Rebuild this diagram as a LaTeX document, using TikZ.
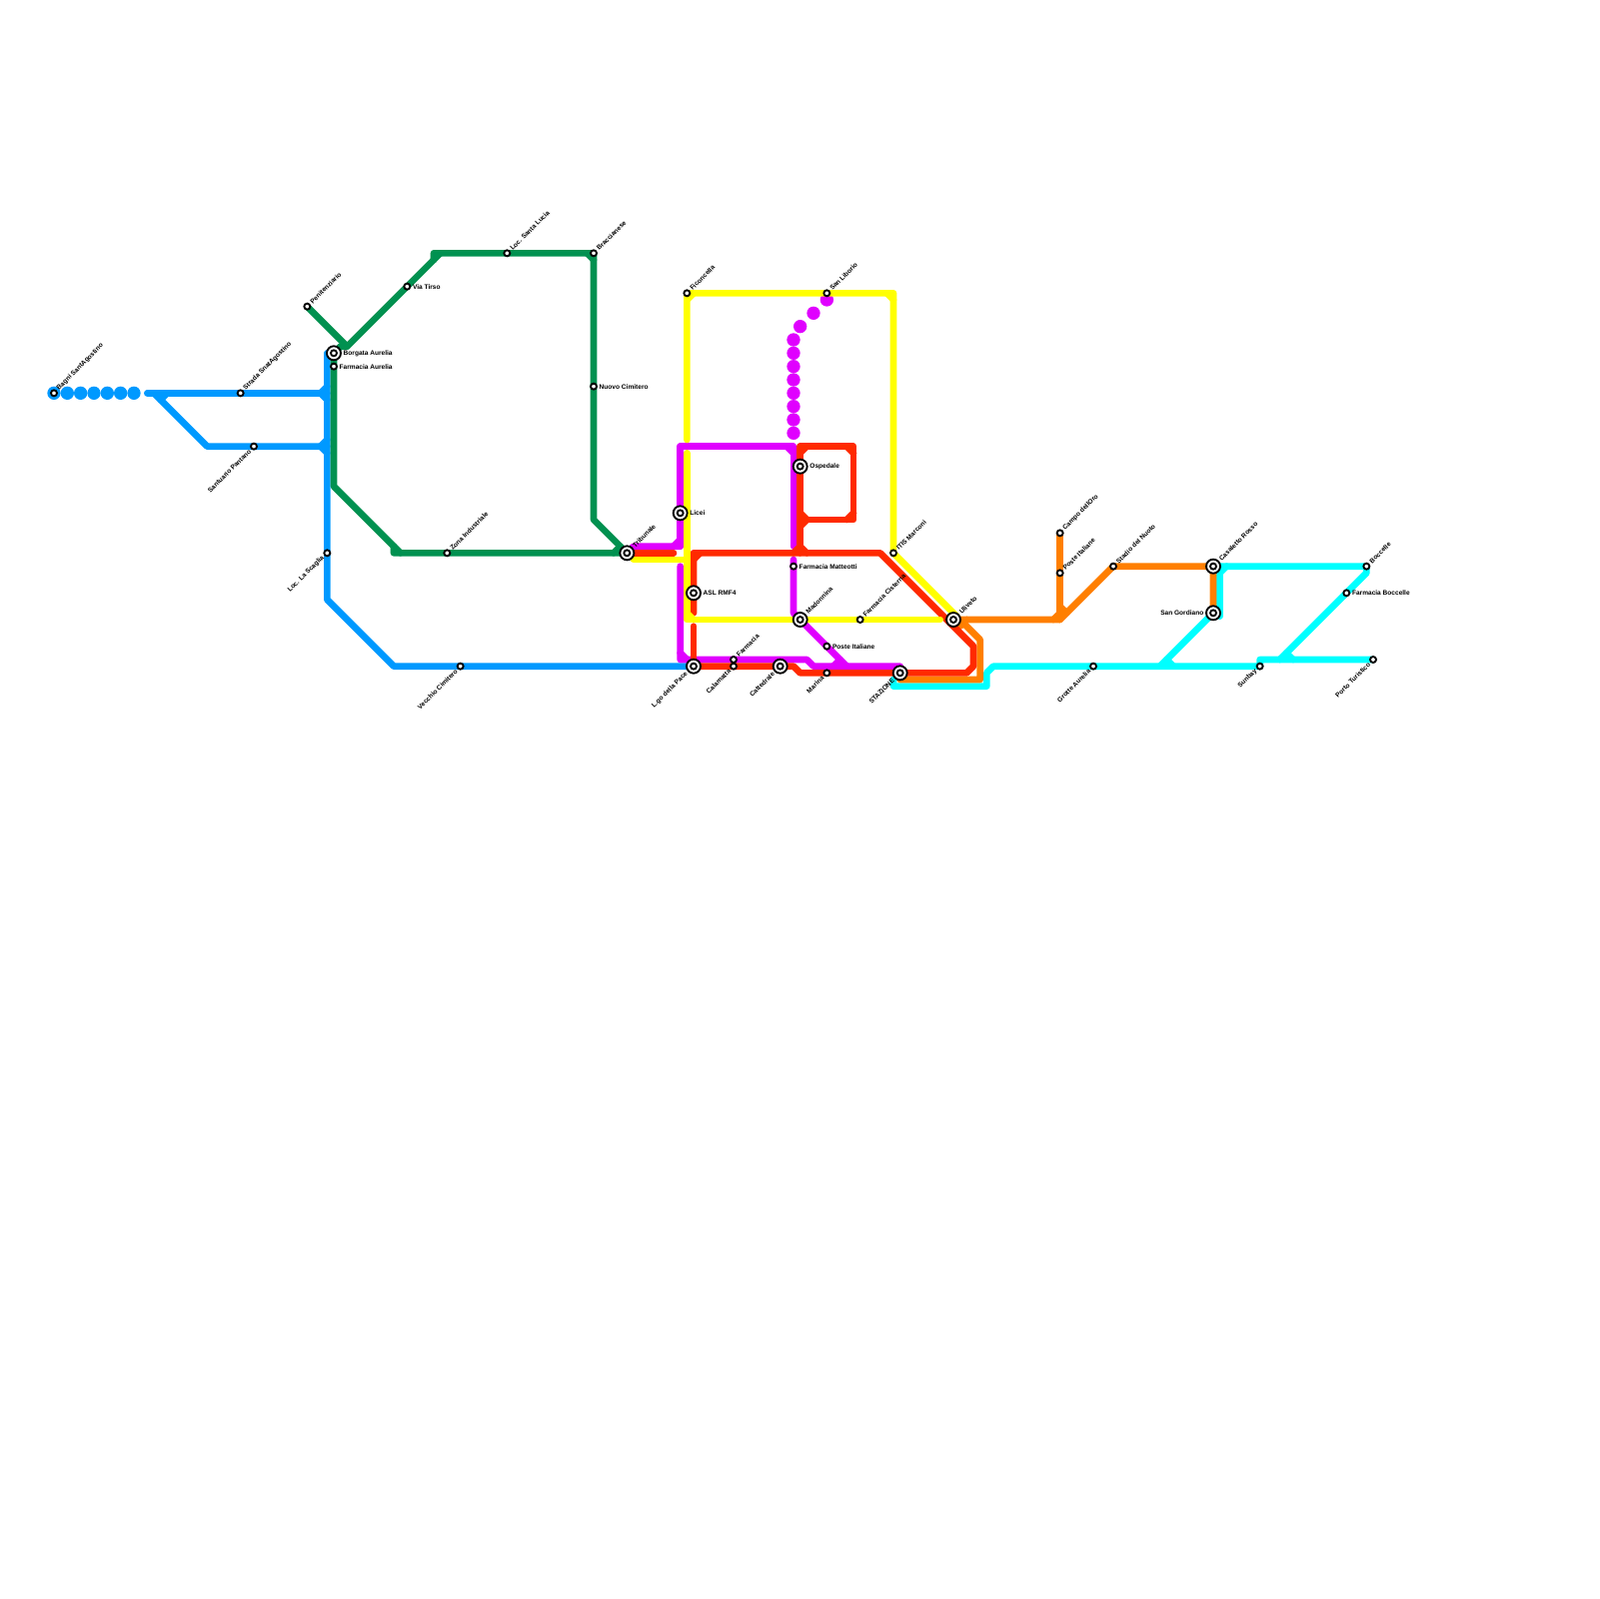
\documentclass[tikz,border=0pt]{standalone}
\usepackage{fontspec}
\setmainfont{Liberation Sans}
\usepackage{xcolor}
\usepackage{tikz}
\usetikzlibrary{backgrounds}
\definecolor{lineblue}{HTML}{0099FF}
\definecolor{linegreen}{HTML}{009150}
\definecolor{linemag}{HTML}{E000FF}
\definecolor{linered}{HTML}{FF2A00}
\definecolor{lineyel}{HTML}{FFFF00}
\definecolor{lineora}{HTML}{FF7F00}
\definecolor{linecya}{HTML}{00FFFF}
\tikzset{
  metro/.style={line width=1mm,line cap=round,line join=round},
  stn/.style={circle,draw=black,fill=white,line width=.28mm,minimum size=.9mm,inner sep=0pt},
  bigstn/.style={stn,minimum size=2.1mm,path picture={\draw[line width=.28mm] (path picture bounding box.center) circle (.45mm);}},
  every label/.style={font=\bfseries\fontsize{2.8}{3}\selectfont,inner sep=.2mm,text=black},
  ne/.style={label={[rotate=45,anchor=west]45:#1}},
  sw/.style={label={[rotate=45,anchor=east]225:#1}},
  ee/.style={label={[anchor=west]0:#1}},
  ww/.style={label={[anchor=east]180:#1}},
}
\begin{document}
\begin{tikzpicture}[x=1mm,y=-1mm]
\useasboundingbox (-.1,0) rectangle (239.9,240);
% stations
\node[stn,ne={Bagni SantAgostino}] (bagni) at (8,59) {};
\node[stn,ne={Strada SnatAgostino}] (strada) at (36,59) {};
\node[stn,sw={Santuario Pantano}] (santuario) at (38,67) {};
\node[stn,sw={Loc. La Scaglia}] (scaglia) at (49,83) {};
\node[stn,sw={Vecchio Cimitero}] (vecchio) at (69,100) {};
\node[stn,ne={Penitenziario}] (penit) at (46,46) {};
\node[bigstn,ee={Borgata Aurelia}] (borgata) at (50,53) {};
\node[stn,ee={Farmacia Aurelia}] (faurelia) at (50,55) {};
\node[stn,ee={Via Tirso}] (tirso) at (61,43) {};
\node[stn,ne={Loc. Santa Lucia}] (slucia) at (76,38) {};
\node[stn,ne={Braccianese}] (bracc) at (89,38) {};
\node[stn,ee={Nuovo Cimitero}] (nuovo) at (89,58) {};
\node[stn,ne={Zona Industriale}] (zona) at (67,83) {};
\node[bigstn,ne={Tribunale}] (tribunale) at (94,83) {};
\node[bigstn,ee={Licei}] (licei) at (102,77) {};
\node[stn,ne={Ficoncella}] (ficon) at (103,44) {};
\node[stn,ne={San Liborio}] (liborio) at (124,44) {};
\node[bigstn,ee={Ospedale}] (ospedale) at (120,70) {};
\node[stn,ee={Farmacia Matteotti}] (matteotti) at (119,85) {};
\node[bigstn,ee={ASL RMF4}] (asl) at (104,89) {};
\node[bigstn,ne={Madonnina}] (madonnina) at (120,93) {};
\node[stn,ne={Farmacia Cisterna}] (cisterna) at (129,93) {};
\node[stn,ne={ITIS Marconi}] (itis) at (134,83) {};
\node[bigstn,ne={Uliveto}] (uliveto) at (143,93) {};
\node[stn,ee={Poste Italiane}] (poste) at (124,97) {};
\node[stn,sw={Marina}] (marina) at (124,101) {};
\node[bigstn,sw={STAZIONE}] (stazione) at (135,101) {};
\node[bigstn,sw={Cattedrale}] (cattedrale) at (117,100) {};
\node[stn,sw={Calamatta}] (calamatta) at (110,100) {};
\node[stn,ne={Farmacia}] (farmacia) at (110,99) {};
\node[bigstn,sw={L.go della Pace}] (pace) at (104,100) {};
\node[stn,ne={Campo dellOro}] (campo) at (159,80) {};
\node[stn,ne={Poste Italiane}] (posteb) at (159,86) {};
\node[stn,ne={Stadio del Nuoto}] (stadio) at (167,85) {};
\node[bigstn,ne={Casaletto Rosso}] (casaletto) at (182,85) {};
\node[bigstn,ww={San Gordiano}] (gordiano) at (182,92) {};
\node[stn,ne={Boccelle}] (boccelle) at (205,85) {};
\node[stn,ee={Farmacia Boccelle}] (fboccelle) at (202,89) {};
\node[stn,sw={Porto Turistico}] (porto) at (206,99) {};
\node[stn,sw={Sunbay}] (sunbay) at (189,100) {};
\node[stn,sw={Grotte Aurelia}] (grotte) at (164,100) {};
% bends
\foreach \n/\x/\y in {bla/22/59,blb/23/59,blc/31/67,bld/49/67,ble/49/59,blf/49/53,blg/49/90,blh/59/100,
  gra/52/52,grb/51/52,grc/66/38,grd/65/38,gre/65/39,grf/89/78,grg/60/83,grh/59/83,gri/59/82,grj/50/73,
  maa/119/82,mab/119/67,mac/102/67,mad/102/82,mae/95/82,maf/102/85,mag/102/99,mah/121/99,mai/122/100,
  maj/119/84,mak/119/92,mal/127/100,mam/135/100,
  rea/101/83,reb/119/100,rec/120/101,red/145/101,ree/146/100,ref/146/97,reg/132/83,reh/104/83,rei/104/92,
  rej/104/94,rek/120/83,rel/120/67,rem/128/67,ren/128/78,reo/120/78,
  yea/103/66,yeb/134/44,yec/143.5/92.5,yed/95/84,yee/103/84,yef/103/68,yeg/103/93,yeh/141/93,
  ora/159/93,orb/144/93,orc/147/96,ord/147/102,ore/135/102,
  cya/134/102,cyb/134/103,cyc/148/103,cyd/148/101,cye/149/100,cyf/174/100,cyg/205/86,cyh/192/99,cyi/189/99,
  cyj/183/85,cyk/183/92.5}
  \coordinate (\n) at (\x,\y);
% lines
\begin{scope}[on background layer]
\draw[metro,linecya] (stazione.center) -- (cya) -- (cyb) -- (cyc) -- (cyd) -- (cye) -- (grotte.center) -- (sunbay.center) -- (cyi) -- (porto.center);
\draw[metro,linecya] (casaletto.center) -- (boccelle.center) -- (cyg) -- (fboccelle.center) -- (cyh);
\draw[metro,linecya] (cyj) -- (cyk);
\draw[metro,linecya] (gordiano.center) -- (cyf);
\draw[metro,linecya] (183,86) -- (184,85);
\draw[metro,linecya] (175,99) -- (176,100);
\draw[metro,linecya] (193,98) -- (194,99);
\foreach \x in {10,12,...,20} \fill[lineblue] (\x,59) circle (1);
\fill[lineblue] (bagni) circle (1);
\draw[metro,lineblue] (bla) -- (strada.center) -- (ble);
\draw[metro,lineblue] (blb) -- (blc) -- (santuario.center) -- (bld);
\draw[metro,lineblue] (blf) -- (scaglia.center) -- (blg) -- (blh) -- (vecchio.center) -- (pace.center);
\draw[metro,lineblue] (48,59) -- (49,58);
\draw[metro,lineblue] (48,59) -- (49,60);
\draw[metro,lineblue] (48,67) -- (49,66);
\draw[metro,lineblue] (48,67) -- (49,68);
\draw[metro,lineblue] (24,60) -- (25,59);
\draw[metro,linegreen] (penit.center) -- (gra);
\draw[metro,linegreen] (grc) -- (tirso.center) -- (gra) -- (grb) -- (borgata.center) -- (faurelia.center) -- (grj) -- (grg);
\draw[metro,linegreen] (gre) -- (grd) -- (slucia.center) -- (bracc.center) -- (nuovo.center) -- (grf) -- (tribunale.center) -- (zona.center) -- (grh) -- (gri);
\draw[metro,linegreen] (88,38) -- (89,39);
\draw[metro,linegreen] (92,83) -- (93,82);
\foreach \x/\y in {124/45,122/47,120/49,119/51,119/53,119/55,119/57,119/59,119/61,119/63,119/65}
  \fill[linemag] (\x,\y) circle (1);
\draw[metro,linemag] (maa) -- (mab) -- (mac) -- (licei.center) -- (mad);
\draw[metro,linemag] (tribunale.center) -- (mae) -- (mad);
\draw[metro,linemag] (maf) -- (mag) -- (mah) -- (mai) -- (mam);
\draw[metro,linemag] (maj) -- (mak) -- (madonnina.center) -- (poste.center) -- (mal);
\draw[metro,linemag] (118,67) -- (119,68);
\draw[metro,linemag] (101,82) -- (102,81);
\draw[metro,linemag] (102,98) -- (103,99);
\draw[metro,linemag] (125,100) -- (126,99);
\draw[metro,lineora] (uliveto.center) -- (ora) -- (stadio.center) -- (casaletto.center) -- (gordiano.center);
\draw[metro,lineora] (campo.center) -- (posteb.center) -- (ora);
\draw[metro,lineora] (orb) -- (orc) -- (ord) -- (ore);
\draw[metro,lineora] (158,93) -- (159,92);
\draw[metro,lineora] (159,91) -- (160,92);
\draw[metro,lineora] (144,94) -- (145,93);
\draw[metro,linered] (tribunale.center) -- (rea);
\draw[metro,linered] (pace.center) -- (calamatta.center) -- (cattedrale.center) -- (reb) -- (rec) -- (marina.center) -- (stazione.center) -- (red) -- (ree) -- (ref) -- (reg) -- (reh) -- (asl.center) -- (rei);
\draw[metro,linered] (rej) -- (pace.center);
\draw[metro,linered] (rek) -- (ospedale.center) -- (rel) -- (rem) -- (ren) -- (reo);
\draw[metro,linered] (104,84) -- (105,83);
\draw[metro,linered] (120,68) -- (121,67);
\draw[metro,linered] (127,67) -- (128,68);
\draw[metro,linered] (128,77) -- (127,78);
\draw[metro,linered] (120,77) -- (121,78);
\draw[metro,linered] (120,79) -- (121,78);
\draw[metro,linered] (119,83) -- (120,82) -- (121,83);
\draw[metro,lineyel] (yea) -- (ficon.center) -- (liborio.center) -- (yeb) -- (itis.center) -- (yec);
\draw[metro,lineyel] (yef) -- (yee) -- (yeg) -- (madonnina.center) -- (cisterna.center) -- (yeh);
\draw[metro,lineyel] (yed) -- (yee);
\draw[metro,lineyel] (103,45) -- (104,44);
\draw[metro,lineyel] (133,44) -- (134,45);
\draw[metro,lineyel] (103,92) -- (104,93);
\end{scope}
\end{tikzpicture}
\end{document}
